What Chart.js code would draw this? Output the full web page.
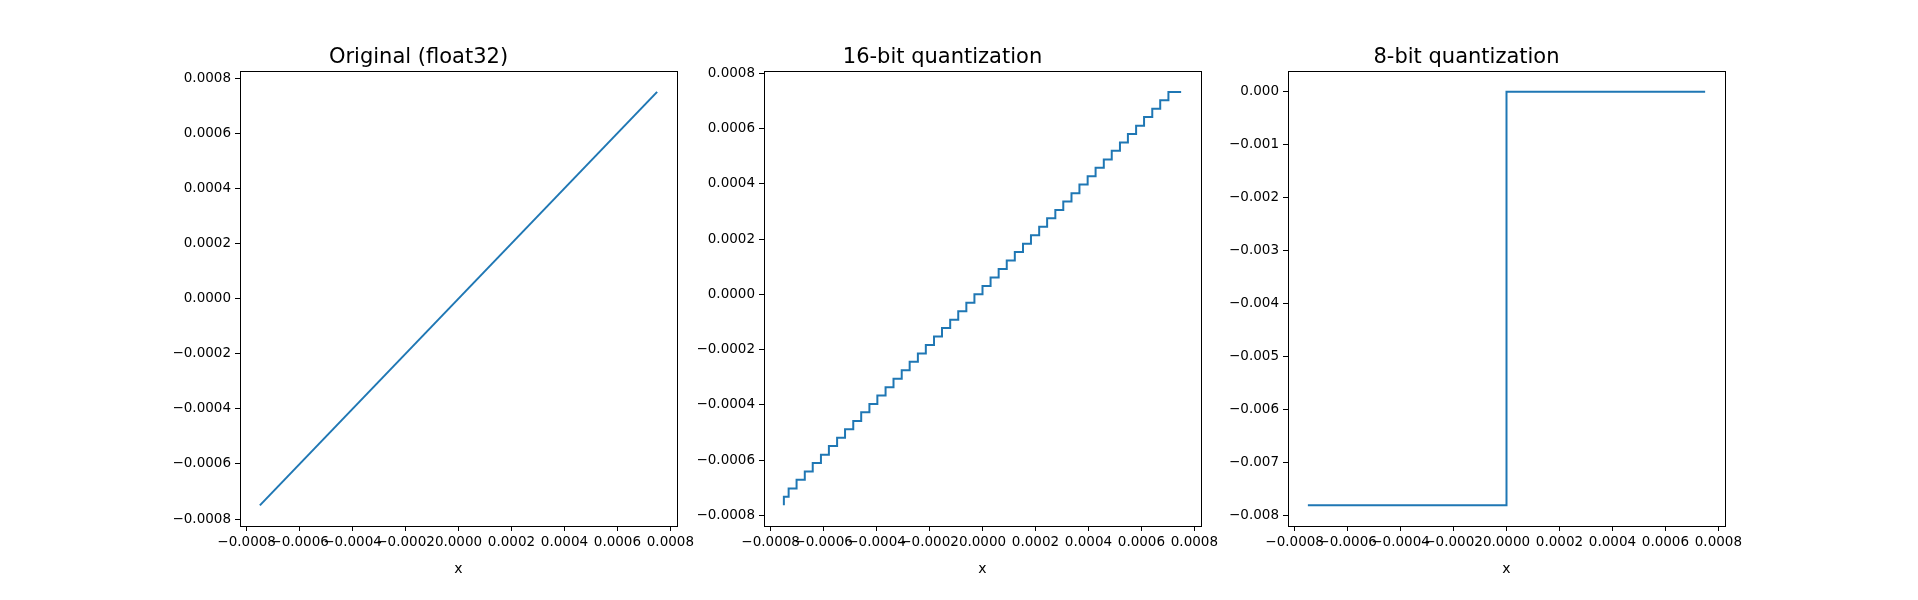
<!DOCTYPE html>
<html><head><meta charset="utf-8">
<script src="https://cdn.jsdelivr.net/npm/chart.js@4/dist/chart.umd.min.js"></script>
<style>body{margin:0;background:#fff;width:1918px;height:600px;overflow:hidden;position:relative}
.c{position:absolute;top:0;height:600px}</style></head><body>
<div class="c" style="left:160px;width:547px"><canvas id="c1"></canvas></div>
<div class="c" style="left:684px;width:547px"><canvas id="c2"></canvas></div>
<div class="c" style="left:1208px;width:547px"><canvas id="c3"></canvas></div>
<script>
const titles = ["Original (float32)", "16-bit quantization", "8-bit quantization"];
const xTicks = [-0.0008, -0.0006, -0.0004, -0.0002, 0, 0.0002, 0.0004, 0.0006, 0.0008];
const yTicks1 = [-0.0008, -0.0006, -0.0004, -0.0002, 0, 0.0002, 0.0004, 0.0006, 0.0008];
const yTicks3 = [-0.008, -0.007, -0.006, -0.005, -0.004, -0.003, -0.002, -0.001, 0];
// original
const origX = [-0.00075, 0.00075];
const origY = [-0.00075, 0.00075];
// 16-bit: step start x and level
const q16X = [-0.00075,-0.000732,-0.000702,-0.000671,-0.000641,-0.000610,-0.000580,-0.000549,-0.000519,-0.000488,-0.000458,-0.000427,-0.000397,-0.000366,-0.000336,-0.000305,-0.000275,-0.000244,-0.000214,-0.000183,-0.000153,-0.000122,-0.0000916,-0.0000610,-0.0000305,0,0.0000305,0.0000610,0.0000916,0.000122,0.000153,0.000183,0.000214,0.000244,0.000275,0.000305,0.000336,0.000366,0.000397,0.000427,0.000458,0.000488,0.000519,0.000549,0.000580,0.000610,0.000641,0.000671,0.000702,0.000732,0.00075];
const q16Y = [-0.000763,-0.000732,-0.000702,-0.000671,-0.000641,-0.000610,-0.000580,-0.000549,-0.000519,-0.000488,-0.000458,-0.000427,-0.000397,-0.000366,-0.000336,-0.000305,-0.000275,-0.000244,-0.000214,-0.000183,-0.000153,-0.000122,-0.0000916,-0.0000610,-0.0000305,0,0.0000305,0.0000610,0.0000916,0.000122,0.000153,0.000183,0.000214,0.000244,0.000275,0.000305,0.000336,0.000366,0.000397,0.000427,0.000458,0.000488,0.000519,0.000549,0.000580,0.000610,0.000641,0.000671,0.000702,0.000732,0.000732];
// 8-bit
const q8X = [-0.00075, 0, 0, 0.00075];
const q8Y = [-0.0078125, -0.0078125, 0, 0];

const FONT = "'DejaVu Sans', sans-serif";
const fmt = (v, d) => { const s = Math.abs(v).toFixed(d); return (v < -1e-12 ? "\u2212" : "") + s; };
const boxPlugin = { id: 'box', afterDraw(ch) { const a = ch.chartArea, c = ch.ctx; c.save(); c.strokeStyle = '#000'; c.lineWidth = 1; c.strokeRect(Math.round(a.left)+0.5, Math.round(a.top)+0.5, Math.round(a.right-a.left), Math.round(a.bottom-a.top)); c.restore(); } };

function make(id, title, xs, ys, stepped, ymin, ymax, yticks, yd) {
  new Chart(document.getElementById(id), {
    type: 'scatter',
    data: { datasets: [{ data: xs.map((x, i) => ({ x: x, y: ys[i] })), showLine: true, stepped: stepped, borderColor: '#1f77b4', borderWidth: 2, pointRadius: 0, fill: false }] },
    plugins: [boxPlugin],
    options: {
      responsive: true, maintainAspectRatio: false, animation: false,
      layout: { padding: { top: 45, right: 30, bottom: 18, left: 0 } },
      plugins: { legend: { display: false }, tooltip: { enabled: false },
        title: { display: true, text: title, color: '#000', font: { family: FONT, size: 21, weight: 'normal' }, padding: { top: 0, bottom: 1 } } },
      scales: {
        x: { type: 'linear', min: -0.000825, max: 0.000825,
          afterBuildTicks: s => { s.ticks = xTicks.map(v => ({ value: v })); },
          afterFit: s => { s.height = 56; },
          grid: { drawOnChartArea: false, drawTicks: true, tickLength: 5, color: '#000' },
          border: { display: true, color: '#000' },
          ticks: { color: '#000', font: { family: FONT, size: 13.5 }, maxRotation: 0, autoSkip: false, padding: 3, callback: v => fmt(v, 4) },
          title: { display: true, text: 'x', color: '#000', font: { family: FONT, size: 14 }, padding: { top: 2 } } },
        y: { type: 'linear', min: ymin, max: ymax,
          afterBuildTicks: s => { s.ticks = yticks.map(v => ({ value: v })); },
          afterFit: s => { s.width = 80; },
          grid: { drawOnChartArea: false, drawTicks: true, tickLength: 5, color: '#000' },
          border: { display: true, color: '#000' },
          ticks: { color: '#000', font: { family: FONT, size: 13.5 }, autoSkip: false, padding: 4, callback: v => fmt(v, yd) } }
      }
    }
  });
}
make('c1', titles[0], origX, origY, false, -0.000825, 0.000825, yTicks1, 4);
make('c2', titles[1], q16X, q16Y, 'after', -0.000838, 0.000807, yTicks1, 4);
make('c3', titles[2], q8X, q8Y, false, -0.0082031, 0.00039, yTicks3, 3);
</script></body></html>
